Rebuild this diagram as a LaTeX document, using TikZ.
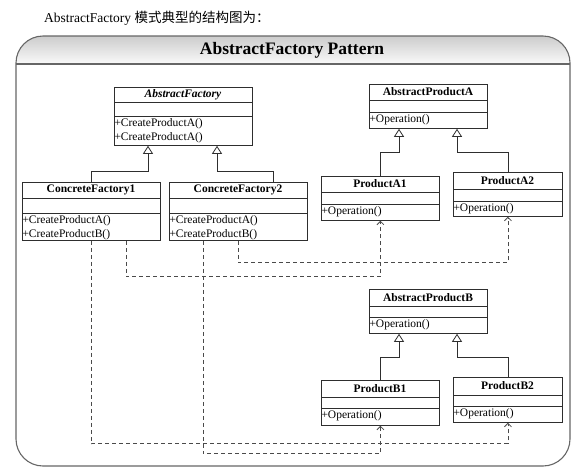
\documentclass[tikz,border=0pt]{standalone}
\usepackage{fontspec}
\setmainfont{Liberation Serif}
\newfontfamily\cjk{Noto Sans CJK SC}
\usetikzlibrary{arrows.meta,calc}
\definecolor{framecol}{HTML}{666666}
\definecolor{boxcol}{HTML}{2E2E2E}
\definecolor{depcol}{HTML}{4A4A4A}
\tikzset{
  clsbox/.style={draw=boxcol, line width=0.8pt, inner sep=0pt, fill=white},
  clsline/.style={draw=boxcol, line width=0.8pt},
  clstitle/.style={font=\bfseries\fontsize{11.5}{13}\selectfont, inner sep=0pt},
  clsops/.style={font=\fontsize{11.5}{14}\selectfont, align=left, inner xsep=0.3pt, inner ysep=2.8pt},
  inh/.style={draw=boxcol, line width=0.8pt, -{Triangle[open,length=8pt,width=10pt,fill=white]}},
  dep/.style={draw=depcol, line width=0.75pt, dash pattern=on 4pt off 3pt, -{Straight Barb[length=3.5pt,width=7pt]}},
}
\newcommand{\umlcls}[9]{%
  \node[clsbox, minimum width={(#4-#2)*1pt}, minimum height={(#5-#3)*1pt}, anchor=north west] (#1) at (#2,#3) {};
  \draw[clsline] (#2,#6) -- (#4,#6) (#2,#7) -- (#4,#7);
  \node[clstitle] (#1-t) at ({(#2+#4)/2},{(#3+#6)/2}) {#8};
  \node[clsops, anchor=north west] (#1-o) at (#2,#7) {#9};
}
\begin{document}
\begin{tikzpicture}[x=1pt,y=-1pt]
\useasboundingbox (0,0) rectangle (585,475);
% caption
\node[anchor=west, inner sep=0pt, font=\fontsize{13.5}{15}\selectfont] (cap) at (44,18) {AbstractFactory {\cjk 模式典型的结构图为：}};
% frame
\begin{scope}
  \clip[rounded corners=27pt] (16,36) rectangle (570,466);
  \shade[top color=gray!40, bottom color=gray!4] (16,36) rectangle (570,64);
\end{scope}
\draw[framecol, line width=1.1pt] (16,64) -- (570,64);
\draw[framecol, line width=1.1pt, rounded corners=27pt] (16,36) rectangle (570,466);
\node[font=\bfseries\fontsize{17.5}{20}\selectfont, inner sep=0pt] (title) at (292,50) {AbstractFactory Pattern};
% classes
\umlcls{af}{114}{87}{252}{145}{102}{116}{\textit{AbstractFactory}}{+CreateProductA()\\+CreateProductA()}
\umlcls{cf1}{22}{182}{160}{240}{198}{213}{ConcreteFactory1}{+CreateProductA()\\+CreateProductB()}
\umlcls{cf2}{169}{182}{307}{240}{198}{213}{ConcreteFactory2}{+CreateProductA()\\+CreateProductB()}
\umlcls{apa}{369}{84}{487}{128}{100}{112}{AbstractProductA}{+Operation()}
\umlcls{pa1}{321}{176}{439}{220}{192}{204}{ProductA1}{+Operation()}
\umlcls{pa2}{453}{172}{562}{216}{189}{201}{ProductA2}{+Operation()}
\umlcls{apb}{369}{289}{487}{333}{306}{317}{AbstractProductB}{+Operation()}
\umlcls{pb1}{321}{380}{439}{425}{397}{408}{ProductB1}{+Operation()}
\umlcls{pb2}{453}{377}{562}{422}{395}{406}{ProductB2}{+Operation()}
% inheritance
\draw[inh] (cf1.north) -- ++(0,-11) -| ([xshift=34pt]af.south west);
\draw[inh] ([xshift=104pt]cf2.north west) -- ++(0,-11) -| ([xshift=103pt]af.south west);
\draw[inh] (pa1.north) -- ++(0,-24) -| ([xshift=30pt]apa.south west);
\draw[inh] (pa2.north) -- ++(0,-20) -| ([xshift=88pt]apa.south west);
\draw[inh] (pb1.north) -- ++(0,-23) -| ([xshift=30pt]apb.south west);
\draw[inh] (pb2.north) -- ++(0,-20) -| ([xshift=88pt]apb.south west);
% dependencies
\draw[dep] (cf1.south) -- ++(0,203) -| (pb2.south);
\draw[dep] ([xshift=104pt]cf1.south west) -- ++(0,36) -| (pa1.south);
\draw[dep] ([xshift=34pt]cf2.south west) -- ++(0,213) -| (pb1.south);
\draw[dep] (cf2.south) -- ++(0,22) -| (pa2.south);
\end{tikzpicture}
\end{document}
